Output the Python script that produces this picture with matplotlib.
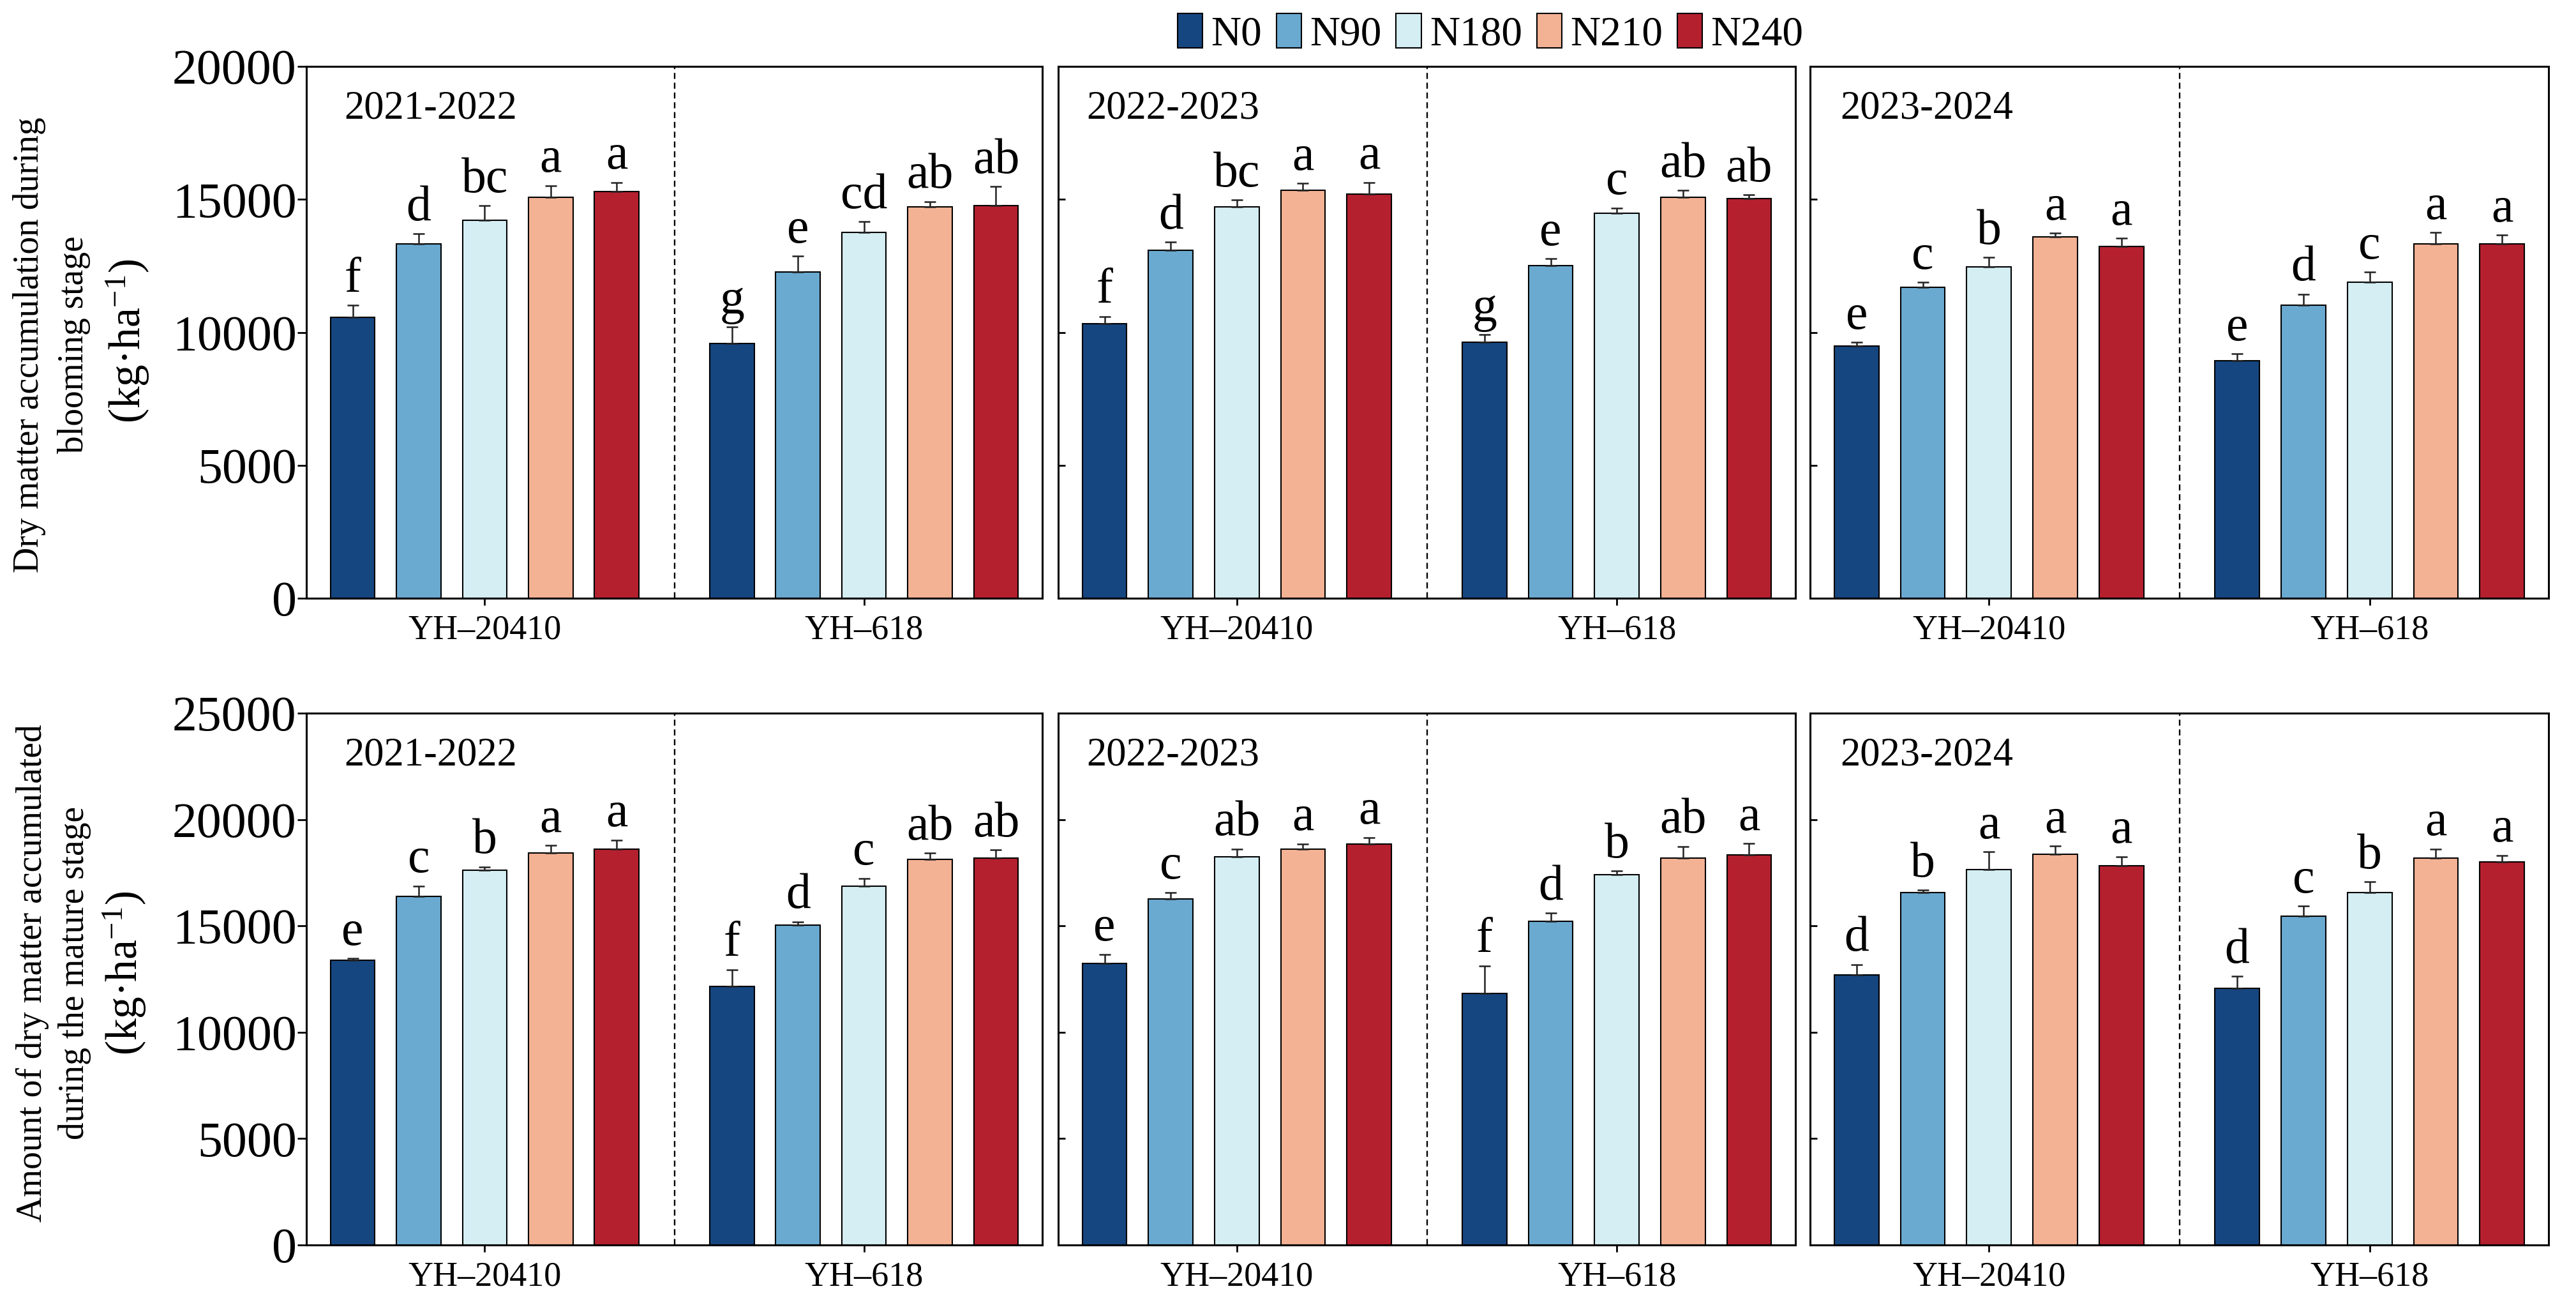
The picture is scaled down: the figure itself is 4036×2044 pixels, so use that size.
import matplotlib
matplotlib.use("Agg")
import matplotlib.pyplot as plt
from matplotlib.patches import Patch
import numpy as np

plt.rcParams['font.family'] = ['Liberation Serif', 'DejaVu Serif']
plt.rcParams['mathtext.fontset'] = 'custom'
plt.rcParams['mathtext.rm'] = 'Liberation Serif'
plt.rcParams['mathtext.it'] = 'Liberation Serif:italic'

# ---------------- data ----------------
cultivars = ['YH–20410', 'YH–618']
treatments = ['N0', 'N90', 'N180', 'N210', 'N240']
seasons = ['2021-2022', '2022-2023', '2023-2024']
colors = ['#164680', '#6BAAD0', '#D4EEF3', '#F4B294', '#B5202F']

# Blooming stage dry matter (kg/ha): [cultivar][treatment]
bloom_2122_mean = [[10570, 13330, 14220, 15090, 15290], [9570, 12270, 13760, 14710, 14770]]
bloom_2122_err = [[440, 380, 550, 430, 350], [630, 600, 400, 210, 720]]
bloom_2122_let = [['f', 'd', 'bc', 'a', 'a'], ['g', 'e', 'cd', 'ab', 'ab']]

bloom_2223_mean = [[10320, 13080, 14720, 15340, 15200], [9630, 12520, 14480, 15090, 15030]]
bloom_2223_err = [[280, 310, 250, 270, 440], [290, 260, 200, 260, 150]]
bloom_2223_let = [['f', 'd', 'bc', 'a', 'a'], ['g', 'e', 'c', 'ab', 'ab']]

bloom_2324_mean = [[9490, 11700, 12450, 13600, 13220], [8940, 11010, 11890, 13330, 13330]]
bloom_2324_err = [[130, 190, 370, 140, 320], [250, 430, 380, 430, 320]]
bloom_2324_let = [['e', 'c', 'b', 'a', 'a'], ['e', 'd', 'c', 'a', 'a']]

# Mature stage dry matter (kg/ha)
mature_2122_mean = [[13390, 16400, 17620, 18420, 18600], [12150, 15040, 16860, 18120, 18200]]
mature_2122_err = [[80, 480, 160, 360, 440], [800, 160, 380, 300, 380]]
mature_2122_let = [['e', 'c', 'b', 'a', 'a'], ['f', 'd', 'c', 'ab', 'ab']]

mature_2223_mean = [[13250, 16280, 18240, 18620, 18860], [11830, 15220, 17420, 18200, 18340]]
mature_2223_err = [[420, 300, 380, 240, 300], [1300, 380, 160, 540, 540]]
mature_2223_let = [['e', 'c', 'ab', 'a', 'a'], ['f', 'd', 'b', 'ab', 'a']]

mature_2324_mean = [[12710, 16560, 17640, 18360, 17820], [12070, 15460, 16560, 18200, 18000]]
mature_2324_err = [[480, 120, 840, 400, 440], [560, 480, 520, 420, 320]]
mature_2324_let = [['d', 'b', 'a', 'a', 'a'], ['d', 'c', 'b', 'a', 'a']]

bloom_yticks = [0, 5000, 10000, 15000, 20000]
mature_yticks = [0, 5000, 10000, 15000, 20000, 25000]

rows = [
    (bloom_yticks, [(bloom_2122_mean, bloom_2122_err, bloom_2122_let),
                    (bloom_2223_mean, bloom_2223_err, bloom_2223_let),
                    (bloom_2324_mean, bloom_2324_err, bloom_2324_let)]),
    (mature_yticks, [(mature_2122_mean, mature_2122_err, mature_2122_let),
                     (mature_2223_mean, mature_2223_err, mature_2223_let),
                     (mature_2324_mean, mature_2324_err, mature_2324_let)]),
]

# ---------------- layout ----------------
W, H = 4036, 2044
fig = plt.figure(figsize=(W / 100, H / 100), dpi=100)

col_px = [(480, 1633), (1658, 2813), (2836, 3993)]
row_px = [(104, 937), (1117, 1950)]
year_x = [0.051, 0.038, 0.041]

spacing = 0.174
bar_w = 0.117
offsets = (np.arange(5) - 2) * spacing

for r, (yticks, panels) in enumerate(rows):
    y0, y1 = row_px[r]
    for c, (means, errs, lets) in enumerate(panels):
        x0, x1 = col_px[c]
        ax = fig.add_axes([x0 / W, 1 - y1 / H, (x1 - x0) / W, (y1 - y0) / H])
        for g in range(2):
            for t in range(5):
                xpos = g + offsets[t]
                m = means[g][t]
                e = errs[g][t]
                ax.bar(xpos, m, width=bar_w, color=colors[t], edgecolor='black',
                       linewidth=1.5, zorder=2)
                ax.errorbar(xpos, m, yerr=[[0], [e]], fmt='none', ecolor='#222222',
                            elinewidth=1.8, capsize=6.5, capthick=1.8, zorder=3)
                ax.annotate(lets[g][t], xy=(xpos, m + e), xytext=(0, 3),
                            textcoords='offset points', ha='center', va='bottom',
                            fontsize=56)
        ax.axvline(0.5, color='black', linestyle=(0, (4, 2.5)), linewidth=1.7, zorder=1)
        ax.set_xlim(-0.47, 1.47)
        ax.set_ylim(yticks[0], yticks[-1])
        ax.set_yticks(yticks)
        ax.set_xticks([0, 1])
        ax.set_xticklabels(cultivars, fontsize=39)
        ax.tick_params(axis='x', direction='out', length=8, width=2, pad=10)
        if c == 0:
            ax.tick_params(axis='y', direction='out', length=10, width=2, pad=1,
                           labelsize=56)
            ax.set_yticklabels([str(v) for v in yticks])
        else:
            ax.tick_params(axis='y', direction='in', length=8, width=2, labelleft=False)
        for s in ax.spines.values():
            s.set_linewidth(2.2)
        ax.text(year_x[c], 0.955, seasons[c], transform=ax.transAxes,
                ha='left', va='top', fontsize=45)

# y-axis labels
top_lines = ['Dry matter accumulation during', 'blooming stage']
bot_lines = ['Amount of dry matter accumulated', 'during the mature stage']
unit = '(kg·ha$^{-1}$)'

fig.text(46 / W, 1 - 540 / H, top_lines[0], rotation=90, ha='center', va='center', fontsize=40)
fig.text(116 / W, 1 - 540 / H, top_lines[1], rotation=90, ha='center', va='center', fontsize=40)
fig.text(200 / W, 1 - 534 / H, unit, rotation=90, ha='center', va='center', fontsize=50)

fig.text(51 / W, 1 - 1524 / H, bot_lines[0], rotation=90, ha='center', va='center', fontsize=40)
fig.text(117 / W, 1 - 1524 / H, bot_lines[1], rotation=90, ha='center', va='center', fontsize=40)
fig.text(195 / W, 1 - 1524 / H, unit, rotation=90, ha='center', va='center', fontsize=50)

# legend
handles = [Patch(facecolor=col, edgecolor='black', linewidth=1.5) for col in colors]
fig.legend(handles, treatments, loc='center', bbox_to_anchor=(2335 / W, 1 - 53 / H),
           ncol=5, frameon=False, fontsize=47, handlelength=0.6, handleheight=0.9,
           handletextpad=0.2, columnspacing=0.35, borderpad=0, borderaxespad=0)

fig.savefig('out.png', dpi=100, facecolor='white')
